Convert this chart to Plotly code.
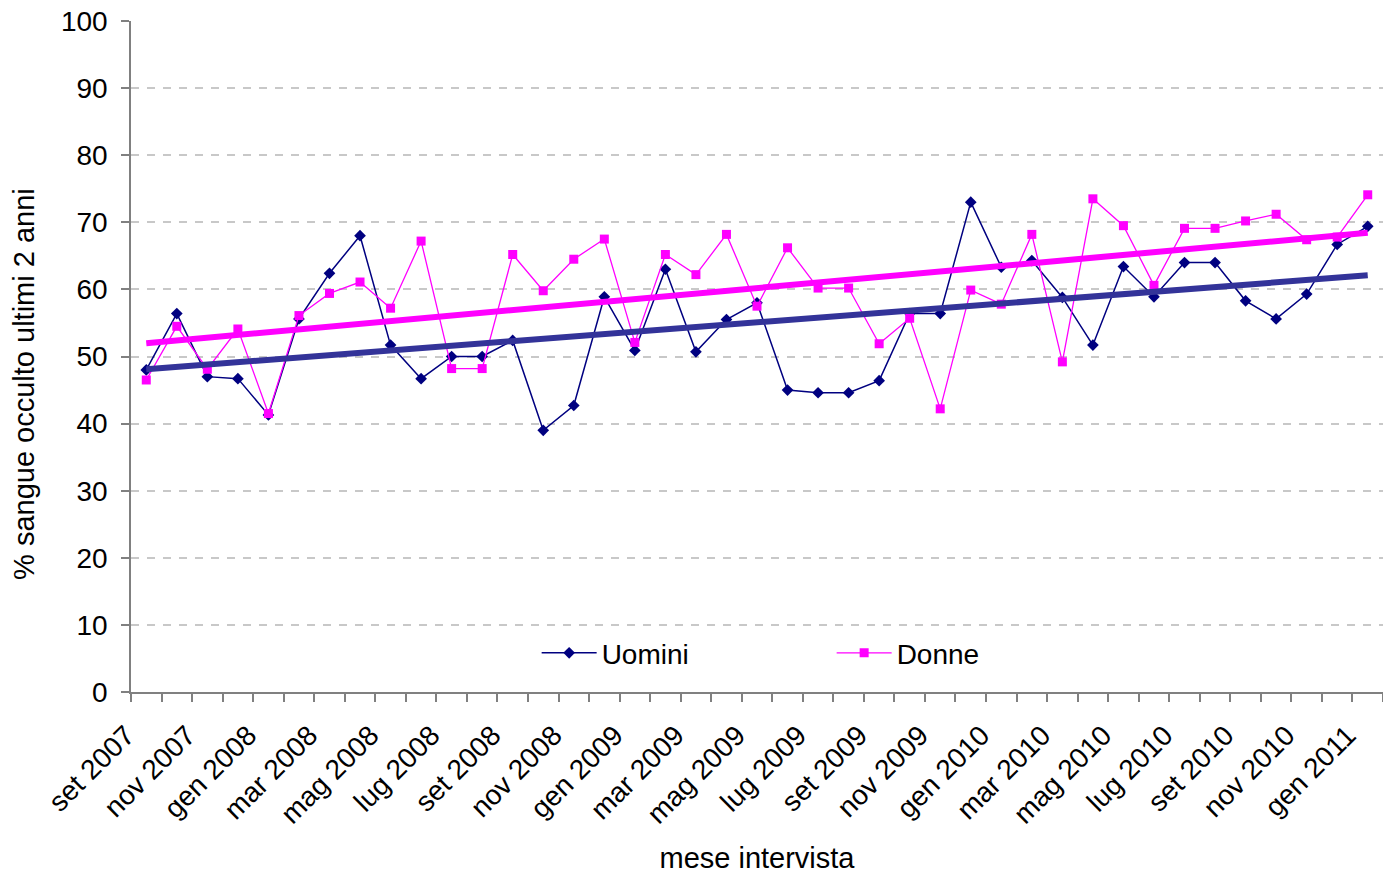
import numpy as np
import plotly.graph_objects as go

# Monthly survey periods (Sep 2007 - Jan 2011)
mesi = [
    "set 2007", "ott 2007", "nov 2007", "dic 2007",
    "gen 2008", "feb 2008", "mar 2008", "apr 2008", "mag 2008", "giu 2008",
    "lug 2008", "ago 2008", "set 2008", "ott 2008", "nov 2008", "dic 2008",
    "gen 2009", "feb 2009", "mar 2009", "apr 2009", "mag 2009", "giu 2009",
    "lug 2009", "ago 2009", "set 2009", "ott 2009", "nov 2009", "dic 2009",
    "gen 2010", "feb 2010", "mar 2010", "apr 2010", "mag 2010", "giu 2010",
    "lug 2010", "ago 2010", "set 2010", "ott 2010", "nov 2010", "dic 2010",
    "gen 2011",
]

# % occult blood test in the last 2 years
uomini = [
    48.0, 56.4, 47.0, 46.7, 41.3, 55.6, 62.4, 68.0, 51.7, 46.7,
    50.0, 50.0, 52.4, 39.0, 42.7, 58.9, 50.9, 63.0, 50.7, 55.5,
    58.0, 45.0, 44.6, 44.6, 46.4, 56.4, 56.4, 73.0, 63.3, 64.3,
    58.8, 51.7, 63.4, 58.9, 64.0, 64.0, 58.3, 55.6, 59.3, 66.7,
    69.4,
]
donne = [
    46.5, 54.5, 48.1, 54.1, 41.5, 56.1, 59.4, 61.1, 57.2, 67.2,
    48.2, 48.2, 65.2, 59.8, 64.5, 67.5, 52.1, 65.2, 62.2, 68.2,
    57.5, 66.2, 60.2, 60.2, 51.9, 55.7, 42.2, 59.9, 57.8, 68.2,
    49.2, 73.5, 69.5, 60.6, 69.1, 69.1, 70.2, 71.2, 67.4, 67.8,
    74.1,
]

# Only every other month gets a visible label
etichette = [m if i % 2 == 0 else "" for i, m in enumerate(mesi)]

# Linear trend lines (least squares over the month index)
idx = np.arange(len(mesi))
trend_u = np.polyval(np.polyfit(idx, uomini, 1), idx)
trend_d = np.polyval(np.polyfit(idx, donne, 1), idx)

NAVY = "#000080"
MAGENTA = "#FF00FF"
TREND_U = "#333399"

fig = go.Figure()
fig.add_trace(go.Scatter(
    x=mesi, y=uomini, name="Uomini", mode="lines+markers",
    line=dict(color=NAVY, width=1.5),
    marker=dict(symbol="diamond", size=9, color=NAVY),
))
fig.add_trace(go.Scatter(
    x=mesi, y=donne, name="Donne", mode="lines+markers",
    line=dict(color=MAGENTA, width=1.3),
    marker=dict(symbol="square", size=9, color=MAGENTA),
))
fig.add_trace(go.Scatter(
    x=mesi, y=trend_u, mode="lines", showlegend=False,
    line=dict(color=TREND_U, width=6), hoverinfo="skip",
))
fig.add_trace(go.Scatter(
    x=mesi, y=trend_d, mode="lines", showlegend=False,
    line=dict(color=MAGENTA, width=6), hoverinfo="skip",
))

fig.update_layout(
    width=1383, height=880,
    margin=dict(l=131, r=0, t=21, b=188),
    plot_bgcolor="white", paper_bgcolor="white",
    font=dict(family="Liberation Sans, Arial, sans-serif", size=28, color="black"),
    legend=dict(
        orientation="h", x=0.324, xanchor="left", y=0.058, yanchor="middle",
        itemwidth=55, entrywidth=225, entrywidthmode="pixels",
        bgcolor="rgba(0,0,0,0)", font=dict(size=28),
        traceorder="normal",
    ),
    annotations=[dict(
        text="% sangue occulto ultimi 2 anni", textangle=-90,
        xref="paper", yref="paper", x=-0.0855, y=0.459,
        xanchor="center", yanchor="middle", showarrow=False,
        font=dict(size=29),
    )],
)

fig.update_xaxes(
    type="category", range=[-0.5, len(mesi) - 0.5], tickson="boundaries",
    tickmode="array", tickvals=mesi, ticktext=etichette,
    tickangle=-45, ticks="outside", ticklen=8, tickcolor="#808080", tickwidth=1.5,
    ticklabelstandoff=14, ticklabelshift=-20,
    showline=True, linecolor="#808080", linewidth=1.5,
    showgrid=False, zeroline=False,
    title=dict(text="mese intervista", font=dict(size=29), standoff=19),
)
fig.update_yaxes(
    range=[0, 100], dtick=10, tick0=0,
    ticks="outside", ticklen=8, tickcolor="#808080", tickwidth=1.5,
    ticklabelstandoff=8,
    showline=True, linecolor="#808080", linewidth=1.5,
    showgrid=True, gridcolor="#c8c8c8", gridwidth=1.5, griddash="8px,8px",
    zeroline=False,
)

fig.write_html("out.html")
